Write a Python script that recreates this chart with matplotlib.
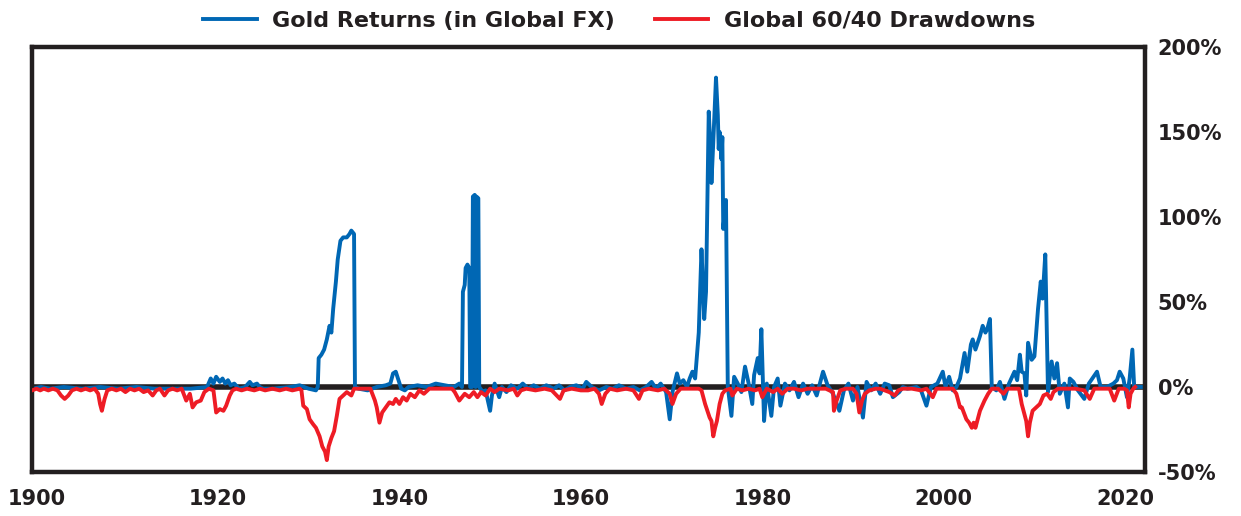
import matplotlib.pyplot as plt
from matplotlib.ticker import FuncFormatter

# gold returns in global FX (%)
gold_years = [1899.5, 1900.5, 1901.5, 1903, 1905, 1907, 1909, 1911, 1913, 1915,
              1917, 1918.8, 1919.2, 1919.5, 1919.8, 1920.2, 1920.5, 1920.8, 1921.1, 1921.4,
              1921.8, 1922.3, 1923.0, 1923.5, 1923.8, 1924.3, 1924.6, 1925, 1926, 1928,
              1929, 1930, 1930.8, 1931.0, 1931.1, 1931.4, 1931.7, 1932.0, 1932.3, 1932.5,
              1932.7, 1933.0, 1933.2, 1933.5, 1933.8, 1934.2, 1934.5, 1934.7, 1935.0, 1935.1,
              1935.5, 1936.5, 1937.5, 1938.5, 1939.0, 1939.3, 1939.6, 1939.9, 1940.2, 1940.6,
              1941, 1942, 1943, 1944, 1945, 1946, 1946.6, 1946.9, 1947.0, 1947.2,
              1947.3, 1947.5, 1947.7, 1947.8, 1948.0, 1948.1, 1948.3, 1948.4, 1948.5, 1948.7,
              1948.8, 1949.2, 1949.5, 1950.0, 1950.2, 1950.5, 1951.0, 1951.3, 1951.8, 1952.3,
              1953.0, 1953.6, 1954.2, 1954.8, 1955.5, 1956.2, 1957.0, 1957.6, 1958.2, 1958.8,
              1959.5, 1960.2, 1960.6, 1961.2, 1962.0, 1962.8, 1963.5, 1964.2, 1965.0, 1965.8,
              1966.5, 1967.2, 1967.8, 1968.3, 1968.8, 1969.4, 1969.8, 1970.1, 1970.6, 1970.9,
              1971.3, 1971.7, 1972.0, 1972.3, 1972.6, 1973.0, 1973.3, 1973.5, 1973.6, 1973.8,
              1974.1, 1974.3, 1974.4, 1974.6, 1974.9, 1975.1, 1975.2, 1975.3, 1975.5, 1975.6,
              1975.7, 1976.0, 1976.2, 1976.6, 1976.9, 1977.3, 1977.7, 1978.1, 1978.5, 1978.9,
              1979.1, 1979.5, 1979.7, 1979.9, 1980.2, 1980.5, 1981.0, 1981.3, 1981.7, 1982.0,
              1982.5, 1983.0, 1983.5, 1984.0, 1984.5, 1985.0, 1985.5, 1986.0, 1986.7, 1987.2,
              1987.8, 1988.5, 1989.0, 1989.5, 1990.0, 1990.5, 1991.1, 1991.5, 1992.0, 1992.5,
              1993.0, 1993.5, 1994.0, 1994.4, 1995.1, 1995.5, 1996.0, 1997.0, 1997.5, 1998.1,
              1998.6, 1999.3, 1999.9, 2000.2, 2000.6, 2001.0, 2001.4, 2001.8, 2002.3, 2002.6,
              2003.0, 2003.2, 2003.5, 2004.0, 2004.3, 2004.6, 2004.8, 2005.1, 2005.3, 2005.8,
              2006.2, 2006.7, 2007.2, 2007.8, 2008.1, 2008.4, 2008.6, 2008.9, 2009.1, 2009.3,
              2009.7, 2010.0, 2010.4, 2010.7, 2010.9, 2011.2, 2011.5, 2011.9, 2012.2, 2012.5,
              2012.8, 2013.3, 2013.7, 2013.9, 2014.3, 2014.8, 2015.5, 2016.0, 2016.9, 2017.3,
              2018.0, 2018.7, 2019.1, 2019.4, 2019.8, 2020.2, 2020.5, 2020.8, 2021.0, 2022.5]
gold_ret = [-1, 0, -1, 0, -1, 0, -1, 0, -1, -1,
            -1, 0, 5, 2, 6, 3, 5, 2, 4, 1,
            2, -1, 0, 3, 1, 2, 0, -1, -1, 0,
            1, -1, -2, 0, 17, 19, 22, 28, 36, 32,
            46, 62, 75, 86, 88, 88, 90, 92, 90, 0,
            -1, -2, 0, 1, 2, 8, 9, 4, -1, -2,
            0, 1, 0, 2, 1, 0, 2, 0, 56, 60,
            70, 72, 70, 0, 0, 112, 113, 0, 112, 111,
            0, -3, -2, -14, -5, 2, -6, 0, -3, 1,
            -1, 2, -1, 1, -1, 1, -1, 1, -2, 0,
            1, -1, 3, 0, -2, 0, -1, 1, -1, 0,
            -2, 0, 3, -1, 2, -3, -19, -3, 8, 2,
            4, 0, 5, 9, 5, 32, 81, 55, 40, 56,
            162, 140, 120, 144, 182, 160, 140, 150, 134, 147,
            93, 110, 0, -17, 6, 2, -3, 12, 2, -10,
            7, 17, 8, 34, -20, 2, -17, 0, 5, -11,
            2, -2, 3, -6, 2, -4, 1, -5, 9, 1,
            -4, -14, -2, 2, -8, 0, -18, 3, -2, 2,
            -4, 2, 1, -6, -3, 0, -1, 0, -2, -11,
            0, 2, 9, 0, 6, -2, 0, 5, 20, 9,
            25, 28, 22, 30, 36, 32, 34, 40, 0, -2,
            3, -7, 2, 9, 4, 19, 9, 8, -5, 26,
            16, 18, 46, 62, 52, 78, -3, 15, 5, 14,
            -4, 2, -12, 5, 3, -2, -7, 2, 9, 0,
            0, 2, 4, 9, 5, -6, 5, 22, 0, 0]

# global 60/40 drawdowns (%)
dd_years = [1899.5, 1900.0, 1900.4, 1900.8, 1901.3, 1901.8, 1902.3, 1902.7, 1903.1, 1903.5,
            1903.9, 1904.4, 1904.9, 1905.4, 1905.9, 1906.4, 1906.8, 1907.0, 1907.2, 1907.5,
            1907.8, 1908.3, 1908.8, 1909.3, 1909.8, 1910.3, 1910.8, 1911.3, 1911.8, 1912.3,
            1912.8, 1913.2, 1913.6, 1914.1, 1914.5, 1915.0, 1915.5, 1916.0, 1916.5, 1916.9,
            1917.2, 1917.6, 1918.1, 1918.5, 1919.0, 1919.5, 1919.8, 1920.2, 1920.6, 1920.9,
            1921.3, 1921.6, 1922.0, 1922.6, 1923.2, 1924.0, 1924.6, 1925.2, 1926.0, 1926.8,
            1927.5, 1928.2, 1929.0, 1929.2, 1929.4, 1929.8, 1930.1, 1930.5, 1930.8, 1931.2,
            1931.5, 1931.8, 1932.0, 1932.2, 1932.5, 1932.8, 1933.1, 1933.4, 1933.8, 1934.2,
            1934.7, 1935.0, 1936.0, 1936.8, 1937.3, 1937.5, 1937.8, 1938.1, 1938.5, 1938.9,
            1939.3, 1939.6, 1940.0, 1940.4, 1940.8, 1941.2, 1941.7, 1942.2, 1942.7, 1943.3,
            1944.0, 1945.0, 1945.8, 1946.1, 1946.6, 1946.9, 1947.2, 1947.7, 1948.2, 1948.6,
            1949.0, 1949.5, 1950.0, 1950.5, 1951.0, 1952.0, 1952.6, 1953.0, 1953.4, 1954.0,
            1955.0, 1956.0, 1956.8, 1957.7, 1958.1, 1959.0, 1960.0, 1960.8, 1961.5, 1962.0,
            1962.3, 1962.7, 1963.2, 1964.0, 1965.0, 1965.8, 1966.4, 1966.8, 1967.5, 1968.5,
            1969.2, 1969.8, 1970.1, 1970.5, 1971.0, 1972.0, 1973.0, 1973.3, 1973.7, 1974.2,
            1974.4, 1974.6, 1974.8, 1975.0, 1975.3, 1975.6, 1975.9, 1976.5, 1976.7, 1977.2,
            1977.8, 1978.5, 1979.2, 1979.7, 1980.0, 1980.5, 1981.2, 1981.7, 1982.2, 1982.8,
            1983.5, 1984.3, 1985.0, 1986.0, 1987.0, 1987.8, 1987.9, 1988.2, 1988.6, 1989.2,
            1990.0, 1990.4, 1990.7, 1991.0, 1991.3, 1991.8, 1992.5, 1993.0, 1994.0, 1994.6,
            1995.0, 1995.5, 1996.5, 1997.5, 1998.1, 1998.8, 1999.2, 2000.0, 2001.0, 2001.4,
            2001.8, 2002.0, 2002.5, 2002.8, 2003.1, 2003.3, 2003.5, 2003.8, 2004.0, 2004.5,
            2004.9, 2005.3, 2006.0, 2006.6, 2007.0, 2008.0, 2008.3, 2008.6, 2008.9, 2009.1,
            2009.3, 2009.5, 2009.8, 2010.2, 2010.6, 2011.0, 2011.4, 2011.8, 2012.1, 2012.6,
            2013.5, 2014.5, 2015.5, 2016.1, 2016.6, 2017.5, 2018.3, 2018.8, 2019.3, 2019.9,
            2020.2, 2020.4, 2020.6, 2020.9, 2021.1]
dd_vals = [-2, -1, -2, -1, -2, -1, -2, -5, -7, -5,
           -2, -1, -2, -1, -2, -1, -4, -10, -14, -7,
           -2, -1, -2, -1, -3, -1, -2, -1, -3, -2,
           -5, -2, -1, -5, -2, -1, -2, -1, -8, -4,
           -12, -9, -8, -3, -1, -2, -15, -13, -14, -11,
           -5, -2, -1, -2, -1, -2, -1, -2, -1, -2,
           -1, -2, -1, -2, -11, -13, -19, -22, -24, -29,
           -35, -38, -43, -35, -30, -26, -17, -7, -5, -3,
           -5, -1, -1, -1, -8, -12, -21, -15, -12, -9,
           -10, -7, -10, -6, -8, -4, -6, -2, -4, -1,
           -1, -1, -1, -3, -8, -6, -4, -6, -3, -6,
           -3, -5, -1, -3, -1, -2, -1, -5, -2, -1,
           -2, -1, -2, -7, -2, -1, -2, -2, -1, -4,
           -10, -4, -1, -2, -1, -2, -7, -2, -1, -2,
           -1, -4, -10, -4, -1, -1, -1, -2, -10, -18,
           -20, -29, -24, -20, -10, -4, -2, -1, -5, -1,
           -2, -1, -2, -1, -6, -1, -3, -1, -4, -1,
           -1, -2, -1, -1, -1, -3, -14, -8, -2, -1,
           -1, -4, -15, -8, -4, -2, -1, -1, -3, -5,
           -2, -1, -1, -2, -1, -6, -1, -1, -1, -4,
           -12, -12, -19, -21, -24, -21, -24, -18, -14, -8,
           -4, -1, -1, -4, -1, -1, -1, -10, -16, -20,
           -29, -21, -14, -12, -10, -5, -4, -7, -3, -1,
           -1, -1, -2, -7, -1, -1, -1, -8, -1, -1,
           -2, -12, -4, -1, 0]

y_ticks = [-50, 0, 50, 100, 150, 200]
x_ticks = [1900, 1920, 1940, 1960, 1980, 2000, 2020]

plt.rcParams['font.family'] = ['DejaVu Sans']
plt.rcParams['font.weight'] = 'bold'

fig = plt.figure(figsize=(12.41, 5.16), dpi=100)
ax = fig.add_axes([0.0258, 0.0853, 0.8969, 0.8236])

ax.axhline(0, color='#231f20', lw=4, zorder=1)
ax.plot(gold_years, gold_ret, color='#0067b4', lw=2.8, label='Gold Returns (in Global FX)', zorder=2)
ax.plot(dd_years, dd_vals, color='#ee1c25', lw=2.8, label='Global 60/40 Drawdowns', zorder=3)

ax.set_xlim(1899.5, 2022.2)
ax.set_ylim(-50, 200)
ax.yaxis.tick_right()
ax.set_yticks(y_ticks)
ax.yaxis.set_major_formatter(FuncFormatter(lambda v, p: f'{v:.0f}%'))
ax.set_xticks(x_ticks)
ax.tick_params(length=0, labelsize=15, colors='#231f20')
ax.tick_params(axis='x', pad=12)
ax.tick_params(axis='y', pad=9)
for s in ax.spines.values():
    s.set_linewidth(3.2)
    s.set_color('#231f20')

fig.legend(loc='center', bbox_to_anchor=(0.499, 0.96), ncol=2, frameon=False,
           fontsize=16, handlelength=2.4, columnspacing=1.8, handletextpad=0.7,
           labelcolor='#231f20')

fig.savefig('out.png', dpi=100)
